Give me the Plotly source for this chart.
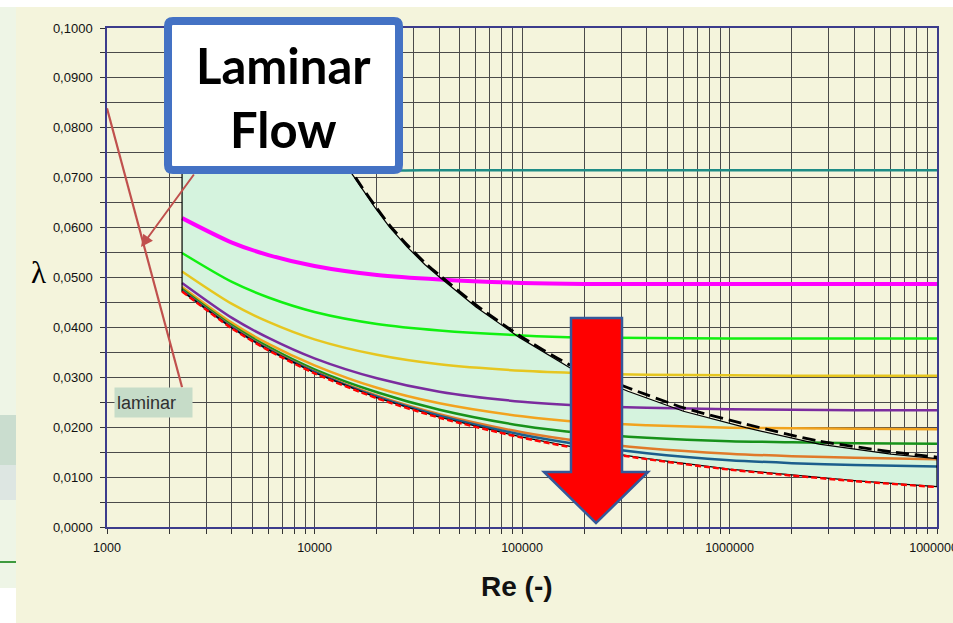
import plotly.graph_objects as go

# ---------------- data ----------------
RE = [2300, 4000, 6000, 10000, 20000, 40000, 100000, 200000, 400000,
      1000000, 2000000, 4000000, 10000000]

LAM_TEAL = [0.0807, 0.0770, 0.0752, 0.0736, 0.0716, 0.0715, 0.0715, 0.0715, 0.0715,
            0.0715, 0.0715, 0.0715, 0.0715]
LAM_MAGENTA = [0.0619, 0.0570, 0.0545, 0.0523, 0.0505, 0.0496, 0.0489, 0.0487, 0.0487,
               0.0487, 0.0487, 0.0487, 0.0487]
LAM_LIME = [0.0549, 0.0491, 0.0460, 0.0431, 0.0407, 0.0394, 0.0384, 0.0380, 0.0379,
            0.0378, 0.0378, 0.0378, 0.0378]
LAM_GOLD = [0.0512, 0.0447, 0.0411, 0.0376, 0.0345, 0.0326, 0.0313, 0.0308, 0.0305,
            0.0304, 0.0303, 0.0303, 0.0303]
LAM_PURPLE = [0.0489, 0.0419, 0.0379, 0.0338, 0.0298, 0.0271, 0.0251, 0.0243, 0.0239,
              0.0236, 0.0235, 0.0234, 0.0234]
LAM_ORANGE = [0.0481, 0.0409, 0.0367, 0.0324, 0.0279, 0.0248, 0.0222, 0.0210, 0.0204,
              0.0199, 0.0198, 0.0197, 0.0196]
LAM_DKGREEN = [0.0477, 0.0404, 0.0361, 0.0316, 0.0270, 0.0235, 0.0203, 0.0188, 0.0179,
               0.0172, 0.0170, 0.0168, 0.0167]
LAM_BROWN = [0.0474, 0.0401, 0.0357, 0.0312, 0.0263, 0.0226, 0.0190, 0.0171, 0.0158,
             0.0147, 0.0142, 0.0139, 0.0136]
LAM_BLUE = [0.0474, 0.0400, 0.0356, 0.0311, 0.0261, 0.0223, 0.0185, 0.0164, 0.0148,
            0.0134, 0.0128, 0.0124, 0.0121]
LAM_SMOOTH = [0.0473, 0.0399, 0.0355, 0.0309, 0.0259, 0.0220, 0.0180, 0.0156, 0.0137,
              0.0116, 0.0104, 0.0093, 0.0081]
LAM_RED = [0.0472, 0.0398, 0.0354, 0.0308, 0.0258, 0.0219, 0.0179, 0.0155, 0.0136,
           0.0115, 0.0103, 0.0092, 0.0080]

BOUND_RE = [6300, 8400, 11200, 14900, 17000, 19500, 23000, 28000, 34000, 40500, 60000,
            97000, 170000, 324000, 600000, 1200000, 2700000, 6000000, 10000000]
BOUND_DASH = [0.1000, 0.0900, 0.0800, 0.0716, 0.0680, 0.0645, 0.0605, 0.0565, 0.0530,
              0.0503, 0.0445, 0.0384, 0.0325, 0.0279, 0.0239, 0.0206, 0.0172, 0.0151,
              0.0140]
BOUND_SOLID = [0.1000, 0.0897, 0.0796, 0.0712, 0.0676, 0.0641, 0.0601, 0.0561, 0.0526,
               0.0499, 0.0441, 0.0380, 0.0319, 0.0272, 0.0232, 0.0199, 0.0166, 0.0146,
               0.0137]

LAMINAR_RE = [1000, 2300]
LAMINAR_LAM = [0.0839, 0.0280]

X_TICKVALS = [1000, 2000, 3000, 4000, 5000, 6000, 7000, 8000, 9000,
              10000, 20000, 30000, 40000, 50000, 60000, 70000, 80000, 90000,
              100000, 200000, 300000, 400000, 500000, 600000, 700000, 800000, 900000,
              1000000, 2000000, 3000000, 4000000, 5000000, 6000000, 7000000, 8000000, 9000000,
              10000000]
X_TICKTEXT = ["1000", "", "", "", "", "", "", "", "",
              "10000", "", "", "", "", "", "", "", "",
              "100000", "", "", "", "", "", "", "", "",
              "1000000", "", "", "", "", "", "", "", "",
              "10000000"]
Y_TICKVALS = [0.0, 0.005, 0.01, 0.015, 0.02, 0.025, 0.03, 0.035, 0.04, 0.045, 0.05,
              0.055, 0.06, 0.065, 0.07, 0.075, 0.08, 0.085, 0.09, 0.095, 0.1]
Y_TICKTEXT = ["0,0000", "", "0,0100", "", "0,0200", "", "0,0300", "", "0,0400", "",
              "0,0500", "", "0,0600", "", "0,0700", "", "0,0800", "", "0,0900", "", "0,1000"]

# ---------------- layout helpers (page pixel coords -> paper) ----------------
W, H = 953, 623
PL, PR, PT, PB = 107, 937, 28, 527   # plot area in page pixels


def fx(px):
    return (px - PL) / (PR - PL)


def fy(py):
    return (PB - py) / (PB - PT)


CREAM = "#F4F4DC"
fig = go.Figure()

# shaded region between smooth curve and rough-turbulence boundary
poly_x = [RE[0]] + BOUND_RE + [RE[-1]] + RE[::-1]
poly_y = [0.1] + BOUND_SOLID + [LAM_SMOOTH[-1]] + LAM_SMOOTH[::-1]
fig.add_trace(go.Scatter(x=poly_x, y=poly_y, mode="lines", fill="toself",
                         fillcolor="#D5F3DE", line=dict(width=0), hoverinfo="skip"))

curves = [
    (LAM_TEAL, "#1E8C86", 2.5),
    (LAM_MAGENTA, "#FF00FF", 4),
    (LAM_LIME, "#11F011", 2.5),
    (LAM_GOLD, "#E6C620", 2.5),
    (LAM_PURPLE, "#7B2C9E", 2.5),
    (LAM_ORANGE, "#F2A31E", 2.5),
    (LAM_DKGREEN, "#17921A", 2.5),
    (LAM_BROWN, "#E07A2A", 2.5),
    (LAM_BLUE, "#1B5E8C", 2.5),
]
for lam, col, w in curves:
    fig.add_trace(go.Scatter(x=RE, y=lam, mode="lines",
                             line=dict(color=col, width=w, shape="spline", smoothing=0.8)))

# outline of shaded region
fig.add_trace(go.Scatter(x=poly_x + [poly_x[0]], y=poly_y + [poly_y[0]], mode="lines",
                         line=dict(color="#000000", width=1.2)))
# red dashed smooth-pipe curve
fig.add_trace(go.Scatter(x=RE, y=LAM_RED, mode="lines",
                         line=dict(color="#FF0000", width=2.4, dash="6px,3px",
                                   shape="spline", smoothing=0.8)))
# dashed black boundary
fig.add_trace(go.Scatter(x=BOUND_RE, y=BOUND_DASH, mode="lines",
                         line=dict(color="#000000", width=2.8, dash="13px,6px",
                                   shape="spline", smoothing=0.6)))
# laminar line
fig.add_trace(go.Scatter(x=LAMINAR_RE, y=LAMINAR_LAM, mode="lines",
                         line=dict(color="#C0504D", width=2.2)))

shapes = []
# page decorations (slide background around the chart panel)
shapes.append(dict(type="rect", xref="paper", yref="paper", layer="below",
                   x0=fx(0), x1=fx(953), y0=fy(0), y1=fy(7),
                   fillcolor="#FFFFFF", line=dict(width=0)))
shapes.append(dict(type="rect", xref="paper", yref="paper", layer="below",
                   x0=fx(0), x1=fx(16), y0=fy(7), y1=fy(588),
                   fillcolor="#EEF5E6", line=dict(width=0)))
shapes.append(dict(type="rect", xref="paper", yref="paper", layer="below",
                   x0=fx(0), x1=fx(16), y0=fy(415), y1=fy(465),
                   fillcolor="#CADDCF", line=dict(width=0)))
shapes.append(dict(type="rect", xref="paper", yref="paper", layer="below",
                   x0=fx(0), x1=fx(16), y0=fy(465), y1=fy(500),
                   fillcolor="#DDE6E2", line=dict(width=0)))
shapes.append(dict(type="rect", xref="paper", yref="paper", layer="below",
                   x0=fx(0), x1=fx(16), y0=fy(588), y1=fy(623),
                   fillcolor="#FFFFFF", line=dict(width=0)))
shapes.append(dict(type="line", xref="paper", yref="paper", layer="below",
                   x0=fx(0), x1=fx(16), y0=fy(562), y1=fy(562),
                   line=dict(color="#3E9A3E", width=2)))

# Laminar Flow box (rounded rectangle)
bx0, bx1, by0, by1, rr = 168, 399, 21, 170, 5
pts = [
    f"M{fx(bx0 + rr)},{fy(by0)}",
    f"L{fx(bx1 - rr)},{fy(by0)}",
    f"Q{fx(bx1)},{fy(by0)} {fx(bx1)},{fy(by0 + rr)}",
    f"L{fx(bx1)},{fy(by1 - rr)}",
    f"Q{fx(bx1)},{fy(by1)} {fx(bx1 - rr)},{fy(by1)}",
    f"L{fx(bx0 + rr)},{fy(by1)}",
    f"Q{fx(bx0)},{fy(by1)} {fx(bx0)},{fy(by1 - rr)}",
    f"L{fx(bx0)},{fy(by0 + rr)}",
    f"Q{fx(bx0)},{fy(by0)} {fx(bx0 + rr)},{fy(by0)}",
    "Z",
]
shapes.append(dict(type="path", xref="paper", yref="paper", path=" ".join(pts),
                   fillcolor="#FFFFFF", line=dict(color="#4472C4", width=8)))

# big red arrow
arrow_pts = [(571, 318), (622, 318), (622, 472), (648, 472), (596, 523), (544, 472), (571, 472)]
apath = "M" + " L".join(f"{fx(x)},{fy(y)}" for x, y in arrow_pts) + " Z"
shapes.append(dict(type="path", xref="paper", yref="paper", path=apath,
                   fillcolor="#FF0000", line=dict(color="#34589A", width=2.5)))

annotations = [
    dict(xref="paper", yref="paper", x=fx(283.5), y=fy(97), text="<b>Laminar<br>Flow</b>",
         showarrow=False, font=dict(family="Lato", size=49, color="#000000"),
         xanchor="center", yanchor="middle"),
    dict(xref="paper", yref="paper", x=fx(153.5), y=fy(402.5), text="laminar",
         showarrow=False, font=dict(family="Arial, Liberation Sans", size=18, color="#303030"),
         bgcolor="#C6DCC8", width=73, height=25, borderpad=2, align="left",
         xanchor="center", yanchor="middle"),
    dict(xref="paper", yref="paper", x=fx(38), y=fy(272), text="λ",
         showarrow=False, font=dict(family="Liberation Serif", size=31, color="#000000"),
         xanchor="center", yanchor="middle"),
    dict(xref="paper", yref="paper", x=fx(517), y=fy(586), text="<b>Re (-)</b>",
         showarrow=False, font=dict(family="Arial, Liberation Sans", size=28, color="#111111"),
         xanchor="center", yanchor="middle"),
    # arrow from box to laminar line
    dict(xref="x", yref="y", axref="x", ayref="y",
         x=3 + fx(141) * 4, y=fy(247) * 0.1,
         ax=3 + fx(195) * 4, ay=fy(173) * 0.1,
         text="", showarrow=True, arrowhead=2, arrowsize=1.2, arrowwidth=2,
         arrowcolor="#C0504D"),
]

fig.update_layout(
    width=W, height=H,
    margin=dict(l=PL, r=W - PR, t=PT, b=H - PB, pad=0),
    paper_bgcolor=CREAM, plot_bgcolor=CREAM,
    showlegend=False,
    shapes=shapes, annotations=annotations,
    xaxis=dict(type="log", range=[3, 7], tickmode="array",
               tickvals=X_TICKVALS, ticktext=X_TICKTEXT,
               showgrid=True, gridcolor="#4A4A4A", gridwidth=1,
               ticks="outside", ticklen=5, tickcolor="#333333",
               showline=True, linecolor="#3C3C8C", linewidth=1.5, mirror=True,
               tickfont=dict(family="Arial, Liberation Sans", size=12.5, color="#111111"),
               automargin=False, zeroline=False, ticklabelstandoff=3,
               ticklabeloverflow="allow"),
    yaxis=dict(range=[0, 0.1], tickmode="array",
               tickvals=Y_TICKVALS, ticktext=Y_TICKTEXT,
               showgrid=True, gridcolor="#4A4A4A", gridwidth=1,
               ticks="outside", ticklen=5, tickcolor="#333333",
               showline=True, linecolor="#3C3C8C", linewidth=1.5, mirror=True,
               tickfont=dict(family="Arial, Liberation Sans", size=13, color="#111111"),
               automargin=False, zeroline=False, ticklabelstandoff=5),
)

fig.write_html("out.html",
               config={"displayModeBar": False},
               post_script="document.body.style.margin='0px';"
                           "document.body.style.overflow='hidden';")
